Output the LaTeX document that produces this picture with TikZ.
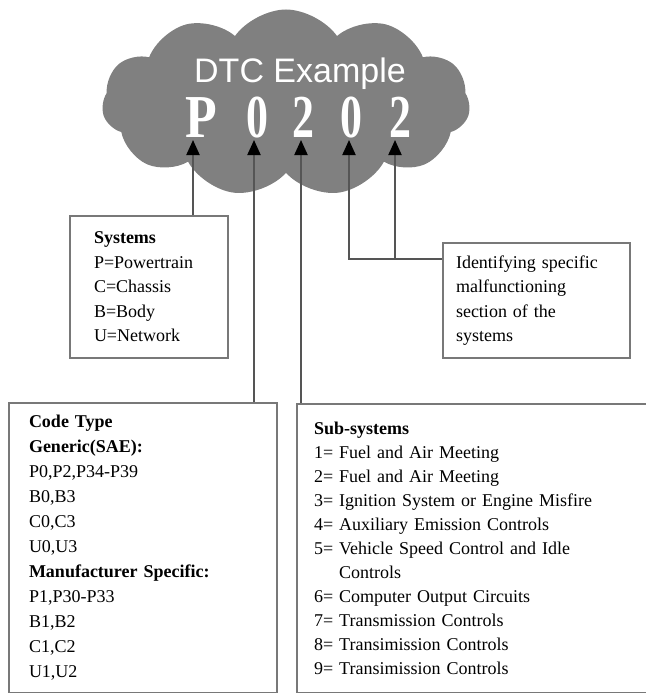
\documentclass[tikz,border=0pt]{standalone}
\usepackage{fontspec}
\setmainfont{Liberation Serif}
\newfontfamily\dtcsans{Liberation Sans}
\usetikzlibrary{shapes.symbols,arrows.meta,positioning}
\definecolor{cloudgray}{RGB}{128,128,128}
\definecolor{linegray}{RGB}{85,85,85}
\definecolor{boxgray}{RGB}{120,120,120}
\tikzset{
  infobox/.style={draw=boxgray, line width=2pt, anchor=north west, align=left,
    inner ysep=0pt, font=\fontsize{18}{24.5}\selectfont},
  pointer/.style={draw=linegray, line width=2pt,
    -{Triangle[width=13pt,length=15pt,color=black]}},
  digit/.style={text=white, anchor=base, inner sep=0pt, text height=41pt, text depth=0pt,
    font=\fontsize{61}{61}\selectfont\bfseries}
}
\begin{document}
\begin{tikzpicture}[x=1pt,y=-1pt]
\useasboundingbox (0,0) rectangle (645,693);

\node[cloud, cloud puffs=11, cloud puff arc=110, aspect=2, fill=cloudgray,
  minimum width=368pt, minimum height=187pt, inner sep=0pt] (cloud) at (286,103) {};
\node[text=white, anchor=base, inner sep=0pt, font=\dtcsans\fontsize{34}{34}\selectfont] (title) at (300,82) {DTC Example};
\foreach \ch/\x/\s/\name in {P/201/0.85/dP,0/257/0.72/dA,2/303/0.72/dB,0/351/0.72/dC,2/400/0.72/dD}
  \node[digit] (\name) at (\x,137) {\scalebox{\s}[1]{\ch}};

\coordinate (tP) at (193,140);
\coordinate (tA) at (254,140);
\coordinate (tB) at (301,140);
\coordinate (tC) at (349,140);
\coordinate (tD) at (395,140);

\node[infobox, text width=110pt, inner xsep=24pt, minimum height=142pt] (sysbox) at (69,215)
  {\textbf{Systems}\\P=Powertrain\\C=Chassis\\B=Body\\U=Network};
\node[infobox, text width=161pt, inner xsep=13pt, minimum height=115pt] (idbox) at (442,242)
  {Identifying specific\\malfunctioning\\section of the\\systems};
\node[infobox, text width=228pt, inner xsep=20pt, minimum height=290pt,
  font=\fontsize{18}{25}\selectfont] (codebox) at (8,402)
  {\textbf{Code Type}\\\textbf{Generic(SAE):}\\P0,P2,P34-P39\\B0,B3\\C0,C3\\U0,U3\\
   \textbf{Manufacturer Specific:}\\P1,P30-P33\\B1,B2\\C1,C2\\U1,U2};
\node[infobox, text width=326pt, inner xsep=17pt, minimum height=289pt,
  font=\fontsize{18}{24}\selectfont] (subbox) at (296,403)
  {\textbf{Sub-systems}\\1= Fuel and Air Meeting\\2= Fuel and Air Meeting\\
   3= Ignition System or Engine Misfire\\4= Auxiliary Emission Controls\\
   5= Vehicle Speed Control and Idle\\\hphantom{5= }Controls\\
   6= Computer Output Circuits\\7= Transmission Controls\\
   8= Transimission Controls\\9= Transimission Controls};

\coordinate (elbow) at (395,259);
\draw[pointer] (tP |- sysbox.north) -- (tP);
\draw[pointer] (tA |- codebox.north) -- (tA);
\draw[pointer] (tB |- subbox.north) -- (tB);
\draw[pointer] (idbox.west |- elbow) -| (tC);
\draw[pointer] (elbow) -- (tD);
\end{tikzpicture}
\end{document}
